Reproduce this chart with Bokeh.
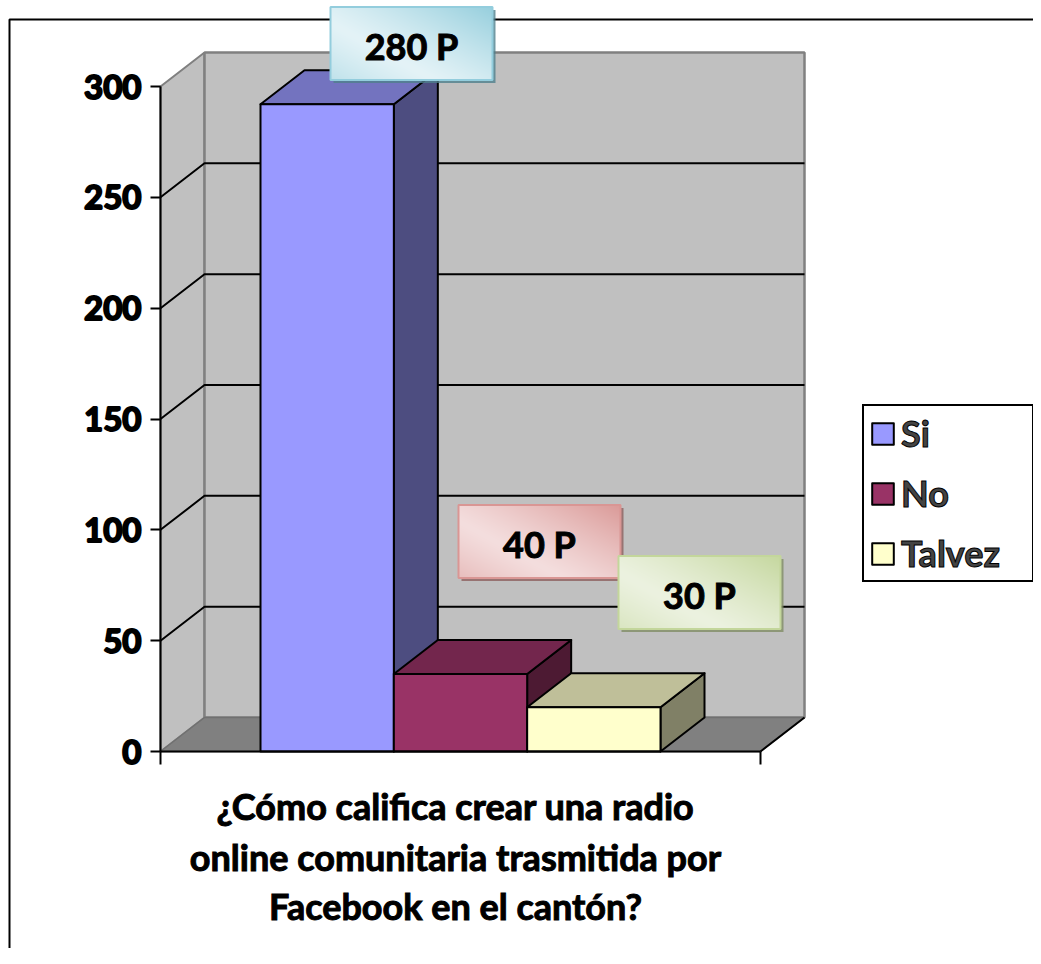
import numpy as np
from bokeh.plotting import figure
from bokeh.models import Range1d, LinearAxis, FixedTicker, Legend, LegendItem
from bokeh.core.properties import value
from bokeh.embed import file_html
from bokeh.resources import INLINE

# ---------------- data ----------------
series = ["Si", "No", "Talvez"]
values = [292, 35, 20]                 # bar heights as drawn
label_texts = ["280 P", "40 P", "30 P"]  # annotation boxes
y_ticks = [0, 50, 100, 150, 200, 250, 300]
x_ticks = [0, 1]                        # single category boundaries
x_title = ["¿Cómo califica crear una radio",
           "online comunitaria trasmitida por",
           "Facebook en el cantón?"]

# ---------------- styles ----------------
front_colors = ["#9999FF", "#993366", "#FFFFCC"]
top_colors = ["#7373BF", "#73264D", "#BFBF99"]
side_colors = ["#4D4D80", "#4D1A33", "#808066"]
box_light = [(228, 243, 247), (244, 222, 222), (236, 242, 224)]
box_dark = [(146, 205, 220), (217, 150, 148), (195, 214, 155)]
box_border = ["#93CDDD", "#D99694", "#C3D69B"]
box_shadow = ["#4F7F8C", "#8C5F5E", "#7F8C64"]
FONT = "Lato"

W, H = 1033, 948
X0_PX = 160          # canvas x of category start
CAT_PX = 600         # category width in px
Y0_PX = 751          # canvas y of value 0
PX_PER_UNIT = 665 / 300
DX_PX, DY_PX = 44, 34

x_start = -X0_PX / CAT_PX
x_end = (W - X0_PX) / CAT_PX
y_end = Y0_PX / PX_PER_UNIT
y_start = -(H - Y0_PX) / PX_PER_UNIT
dx = DX_PX / CAT_PX
dy = DY_PX / PX_PER_UNIT
ymax = y_ticks[-1]


def dxp(px):
    return (px - X0_PX) / CAT_PX


def dyp(py):
    return (Y0_PX - py) / PX_PER_UNIT


p = figure(width=W, height=H, x_range=Range1d(x_start, x_end),
           y_range=Range1d(y_start, y_end), output_backend="svg",
           toolbar_location=None, min_border=0, x_axis_type=None,
           y_axis_type=None)
p.grid.visible = False
p.outline_line_color = None
p.background_fill_color = "white"
p.border_fill_color = "white"

# walls and floor
p.patch([0, dx, dx, 0], [0, dy, ymax + dy, ymax], fill_color="#C0C0C0",
        line_color="#808080", line_width=2)
p.patch([dx, 1 + dx, 1 + dx, dx], [dy, dy, ymax + dy, ymax + dy],
        fill_color="#C0C0C0", line_color="#808080", line_width=2.5)
p.patch([0, 1, 1 + dx, dx], [0, 0, dy, dy], fill_color="#808080",
        line_color="#707070", line_width=1.5)
p.line([x_ticks[-1], x_ticks[-1] + dx], [0, dy], line_color="black", line_width=2)

# gridlines on side + back wall
grid_vals = y_ticks[1:-1]
p.multi_line([[0, dx, 1 + dx] for _ in grid_vals],
             [[t, t + dy, t + dy] for t in grid_vals],
             line_color="black", line_width=2)

# bars
n = len(series)
bw = (2 / 3) / n
front_renderers = []
for i in range(n):
    xl = 1 / 6 + i * bw
    xr = xl + bw
    v = values[i]
    p.patch([xr, xr + dx, xr + dx, xr], [0, dy, v + dy, v],
            fill_color=side_colors[i], line_color="black", line_width=2,
            line_join="round")
    p.patch([xl, xr, xr + dx, xl + dx], [v, v, v + dy, v + dy],
            fill_color=top_colors[i], line_color="black", line_width=2,
            line_join="round")
    r = p.patch([xl, xr, xr, xl], [0, 0, v, v], fill_color=front_colors[i],
                line_color="black", line_width=2, line_join="round")
    front_renderers.append(r)

# axes
yaxis = LinearAxis(fixed_location=0, bounds=(0, ymax),
                   ticker=FixedTicker(ticks=y_ticks),
                   axis_line_width=2, axis_line_color="black",
                   major_tick_line_width=2, major_tick_out=10, major_tick_in=0,
                   minor_tick_line_color=None,
                   major_label_text_font=FONT,
                   major_label_text_font_style="bold",
                   major_label_text_font_size="33px",
                   major_label_text_color="black",
                   major_label_text_outline_color="black",
                   major_label_standoff=9)
p.add_layout(yaxis, "left")

xaxis = LinearAxis(fixed_location=0, bounds=(x_ticks[0], x_ticks[-1]),
                   ticker=FixedTicker(ticks=x_ticks),
                   axis_line_width=2, axis_line_color="black",
                   major_tick_line_width=2, major_tick_out=13, major_tick_in=0,
                   minor_tick_line_color=None,
                   major_label_overrides={t: "" for t in x_ticks},
                   major_label_text_font_size="1px")
p.add_layout(xaxis, "below")

# outer chart-area border (top and left)
bx = dxp(9)
by = dyp(19)
p.line([bx, bx, x_end], [y_start, by, by], line_color="black", line_width=2)

# x title
title_px_y = [805, 856, 905]
p.text(x=[dxp(455)] * 3, y=[dyp(v) for v in title_px_y], text=x_title,
       text_font=value(FONT), text_font_style="bold", text_font_size="36px",
       text_align="center", text_baseline="middle", text_color="black",
       text_outline_color="black")

# annotation boxes
box_centers_px = [(411, 43), (539, 541), (699, 592)]
BW_PX, BH_PX = 162, 73
for i, (cx, cy) in enumerate(box_centers_px):
    x = dxp(cx)
    y = dyp(cy)
    p.rect([x + 3 / CAT_PX], [y - 3 / PX_PER_UNIT], width=BW_PX, height=BH_PX,
           width_units="screen", height_units="screen",
           fill_color=box_shadow[i], fill_alpha=0.8, line_color=None)
    h, w = BH_PX, BW_PX
    u = np.linspace(0, 1, w)[None, :]
    vv = np.linspace(0, 1, h)[:, None]
    f = np.clip(np.abs((u * 0.55 + vv * 0.45) - 0.35) * 1.45, 0, 1) ** 1.2
    lt = np.array(box_light[i], dtype=float)
    dk = np.array(box_dark[i], dtype=float)
    img = np.empty((h, w), dtype=np.uint32)
    view = img.view(dtype=np.uint8).reshape((h, w, 4))
    for c in range(3):
        view[:, :, c] = (lt[c] * (1 - f) + dk[c] * f).astype(np.uint8)
    view[:, :, 3] = 255
    p.image_rgba(image=[img], x=x - (w / 2) / CAT_PX,
                 y=y - (h / 2) / PX_PER_UNIT,
                 dw=w / CAT_PX, dh=h / PX_PER_UNIT)
    p.rect([x], [y], width=BW_PX, height=BH_PX, width_units="screen",
           height_units="screen", fill_color=None, line_color=box_border[i],
           line_width=2)
p.text(x=[dxp(c[0]) for c in box_centers_px],
       y=[dyp(c[1] + 2) for c in box_centers_px], text=label_texts,
       text_font=value(FONT), text_font_style="bold", text_font_size="36px",
       text_align="center", text_baseline="middle", text_color="black",
       text_outline_color="black")

# legend
legend = Legend(items=[LegendItem(label=s, renderers=[r])
                       for s, r in zip(series, front_renderers)],
                location=(862, H - 582),
                border_line_color="black", border_line_width=2,
                border_line_alpha=1,
                background_fill_color="white", background_fill_alpha=1,
                padding=5, margin=0, spacing=16,
                glyph_width=27, glyph_height=27, label_standoff=5,
                label_text_font=FONT, label_text_font_style="bold",
                label_text_font_size="36px", label_height=40, label_width=126,
                label_text_outline_color="black")
p.add_layout(legend)

open("out.html", "w").write(file_html(p, INLINE))
